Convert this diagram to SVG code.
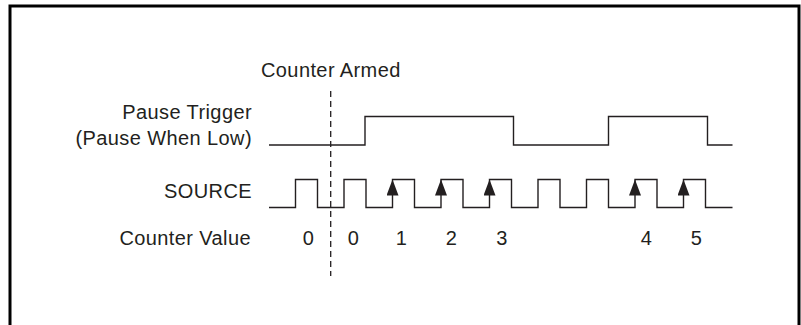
<svg xmlns="http://www.w3.org/2000/svg" width="801" height="325" viewBox="0 0 801 325">
<style>
text{font-family:"Liberation Sans",Arial,sans-serif;font-size:20px;letter-spacing:0.4px;fill:#231f20}
.r{text-anchor:end}
.c{text-anchor:middle}
.w{fill:none;stroke:#231f20;stroke-width:1.4}
</style>
<defs>
<marker id="ah" markerWidth="16" markerHeight="12" refX="16" refY="6" orient="auto" markerUnits="userSpaceOnUse" viewBox="0 0 16 12">
<path d="M0 0 L16 6 L0 12 Z" fill="#231f20"/>
</marker>
</defs>
<rect x="10" y="6" width="789" height="330" fill="#fff" stroke="#000" stroke-width="3"/>
<g id="labels">
<text x="261" y="77">Counter Armed</text>
<text class="r" x="252" y="118.5">Pause Trigger</text>
<text class="r" x="252" y="144.5">(Pause When Low)</text>
<text class="r" x="252" y="197.5">SOURCE</text>
<text class="r" x="251" y="245">Counter Value</text>
</g>
<g id="counter-values">
<text class="c" x="308.5" y="245">0</text>
<text class="c" x="353.5" y="245">0</text>
<text class="c" x="401.5" y="245">1</text>
<text class="c" x="451.5" y="245">2</text>
<text class="c" x="502" y="245">3</text>
<text class="c" x="646.5" y="245">4</text>
<text class="c" x="696.5" y="245">5</text>
</g>
<g id="pause-trigger">
<path class="w" d="M269 145 H365 V116.5 H513.5 V145 H608.5 V116.5 H707.5 V145 H732.5"/>
</g>
<g id="source">
<path class="w" d="M269 207.5 H295.5 V179.5 H317.5 V207.5 H344 V179.5 H366 V207.5 H392.5 V179.5 H414.5 V207.5 H441 V179.5 H463 V207.5 H489.5 V179.5 H511.5 V207.5 H538 V179.5 H560 V207.5 H586.5 V179.5 H608.5 V207.5 H635 V179.5 H657 V207.5 H683.5 V179.5 H705.5 V207.5 H732.5"/>
</g>
<g id="connectors">
<line x1="392.5" y1="200" x2="392.5" y2="179.5" stroke="none" marker-end="url(#ah)"/>
<line x1="441" y1="200" x2="441" y2="179.5" stroke="none" marker-end="url(#ah)"/>
<line x1="489.5" y1="200" x2="489.5" y2="179.5" stroke="none" marker-end="url(#ah)"/>
<line x1="635" y1="200" x2="635" y2="179.5" stroke="none" marker-end="url(#ah)"/>
<line x1="683.5" y1="200" x2="683.5" y2="179.5" stroke="none" marker-end="url(#ah)"/>
<line x1="330.7" y1="91" x2="330.7" y2="276" stroke="#231f20" stroke-width="1.3" stroke-dasharray="6,4"/>
</g>
</svg>
